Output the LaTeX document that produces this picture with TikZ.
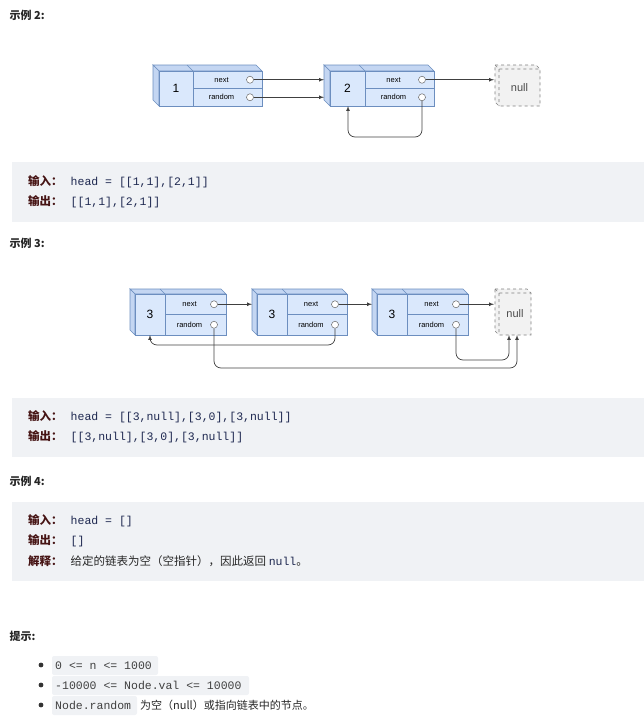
\documentclass[tikz,border=0pt]{standalone}
\usepackage{fontspec}
\setmainfont{Noto Sans CJK SC}
\newfontfamily\cjk{Noto Sans CJK SC}
\newfontfamily\cmono{Liberation Mono}
\newfontfamily\dfont{Liberation Sans}
\definecolor{edge}{RGB}{108,142,191}
\definecolor{face}{RGB}{218,232,252}
\definecolor{side}{RGB}{196,214,242}
\definecolor{codebg}{RGB}{240,242,245}
\definecolor{lblc}{RGB}{70,20,20}
\definecolor{codec}{RGB}{30,40,80}
\begin{document}
\begin{tikzpicture}[x=1pt,y=-1pt,
  fr/.style={draw=edge,fill=face,line width=0.7pt},
  sd/.style={draw=edge,fill=side,line width=0.7pt},
  pin/.style={circle,draw=gray!80!black,fill=white,inner sep=0pt,minimum size=7pt,line width=0.5pt},
  arr/.style={-latex,line width=0.7pt,draw=black!75},
  lnk/.style={-latex,line width=0.7pt,draw=black!75,rounded corners=7pt},
  code/.style={fill=codebg,draw=none},
  ttl/.style={anchor=west,font=\cjk\bfseries\fontsize{11}{13}\selectfont,text=black!85},
  cl/.style={anchor=west,font=\cmono\fontsize{11.5}{13}\selectfont,inner sep=0pt,text=codec},
  lab/.style={font=\dfont\fontsize{7.5}{9}\selectfont},
]
\useasboundingbox (0,0) rectangle (644,728);
\newcommand\lb[1]{{\cjk\bfseries\color{lblc}#1}\hspace{8pt}}
% node: #1 name, #2 left, #3 top, #4 right, #5 bottom, #6 divider, #7 value, #8 off
\newcommand\lnode[8]{%
  \draw[sd] (#2,#3) -- (#4-#8,#3) -- (#4,#3+#8) -- (#2+#8,#3+#8) -- cycle;
  \draw[sd] (#2,#3) -- (#2+#8,#3+#8) -- (#2+#8,#5) -- (#2,#5-#8) -- cycle;
  \draw[fr] (#2+#8,#3+#8) rectangle (#4,#5);
  \draw[fr] (#6,#3+#8) -- (#6,#5);
  \draw[edge,line width=0.7pt] (#6,#3+#8) -- (#6-#8,#3);
  \draw[fr] (#6,{(#3+#8+#5)/2}) -- (#4,{(#3+#8+#5)/2});
  \node[font=\dfont\fontsize{12}{13}\selectfont] (#1v) at ({(#2+#8+#6)/2},{(#3+#8+#5)/2}) {#7};
  \node[lab] (#1n) at ({(#6+#4)/2-6},{(#3+#8)*0.75+#5*0.25}) {next};
  \node[lab] (#1r) at ({(#6+#4)/2-6},{(#3+#8)*0.25+#5*0.75}) {random};
  \node[pin] (#1a) at (#4-12,{(#3+#8)*0.75+#5*0.25}) {};
  \node[pin] (#1b) at (#4-12,{(#3+#8)*0.25+#5*0.75}) {};
}
\newcommand\nullnode[5]{%
  \draw[dashed,gray,fill=gray!10,line width=0.6pt] (#2,#3) -- (#4-4,#3) -- (#4,#3+4) -- (#4,#5) -- (#2+4,#5) -- (#2,#5-4) -- cycle;
  \draw[dashed,gray,line width=0.6pt] (#2,#3) -- (#2+4,#3+4) -- (#4,#3+4) (#2+4,#3+4) -- (#2+4,#5);
  \node[font=\dfont\fontsize{11}{12}\selectfont,text=black!70] (#1) at ({(#2+#4)/2+2},{(#3+#5)/2+2}) {null};
}
% ---- texts
\node[ttl] (t2) at (6,15) {示例 2:};
\node[ttl] (t3) at (6,243) {示例 3:};
\node[ttl] (t4) at (6,481) {示例 4:};
\node[ttl] (t5) at (6,636) {提示:};
% ---- example 2 diagram
\lnode{a}{153}{65}{262}{106}{193}{1}{6}
\lnode{b}{324}{65}{434}{106}{365}{2}{6}
\nullnode{n1}{495}{65}{540}{106}
\draw[arr] (aa) -- (aa -| 324,0);
\draw[arr] (ab) -- (ab -| 324,0);
\draw[arr] (ba) -- (ba -| 494,0);
\coordinate (l1) at (348,106);
\draw[lnk] (bb) -- (bb |- 0,137) -- (l1 |- 0,137) -- (l1);
% code 1
\fill[code] (12,162) rectangle (644,222);
\node[cl] (c1) at (28,182) {\lb{输入：}head = [[1,1],[2,1]]};
\node[cl] (c2) at (28,202) {\lb{输出：}[[1,1],[2,1]]};
% ---- example 3 diagram
\lnode{p}{130}{289}{226}{335}{165}{3}{5}
\lnode{q}{252}{289}{347}{335}{287}{3}{5}
\lnode{r}{372}{289}{468}{335}{407}{3}{5}
\nullnode{n2}{495}{289}{531}{335}
\draw[arr] (pa) -- (pa -| 252,0);
\draw[arr] (qa) -- (qa -| 372,0);
\draw[arr] (ra) -- (ra -| 494,0);
\coordinate (e1) at (150,335);
\coordinate (e2) at (517,335);
\coordinate (e3) at (509,335);
\draw[lnk] (qb) -- (qb |- 0,345) -- (e1 |- 0,345) -- (e1);
\draw[lnk] (pb) -- (pb |- 0,368) -- (e2 |- 0,368) -- (e2);
\draw[lnk] (rb) -- (rb |- 0,360) -- (e3 |- 0,360) -- (e3);
% code 2
\fill[code] (12,398) rectangle (644,457);
\node[cl] (c3) at (28,417) {\lb{输入：}head = [[3,null],[3,0],[3,null]]};
\node[cl] (c4) at (28,437) {\lb{输出：}[[3,null],[3,0],[3,null]]};
% code 3
\fill[code] (12,502) rectangle (644,581);
\node[cl] (c5) at (28,521) {\lb{输入：}head = []};
\node[cl] (c6) at (28,541) {\lb{输出：}[]};
\node[cl] (c7) at (28,561) {\lb{解释：}{\cjk\color{black!85}给定的链表为空（空指针），因此返回 }null{\cjk\color{black!85}。}};
% hints
\foreach \y in {665,685,705} \fill[black!80] (41,\y) circle (2.4pt);
\fill[codebg,rounded corners=2pt] (52,656) rectangle (158,675);
\fill[codebg,rounded corners=2pt] (52,676) rectangle (249,695);
\fill[codebg,rounded corners=2pt] (52,696) rectangle (137,715);
\node[cl,text=black!75] (h1) at (55,665.5) {0 <= n <= 1000};
\node[cl,text=black!75] (h2) at (55,685.5) {-10000 <= Node.val <= 10000};
\node[cl,text=black!75] (h3) at (55,705.5) {Node.random};
\node[anchor=west,inner sep=0pt,font=\cjk\fontsize{11}{13}\selectfont,text=black!85] (h4) at (140,705.5) {为空（null）或指向链表中的节点。};
\end{tikzpicture}
\end{document}
